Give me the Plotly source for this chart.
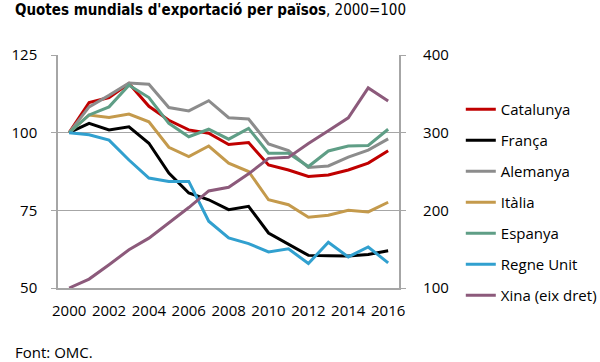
import plotly.graph_objects as go

years = list(range(2000, 2017))

catalunya = [100, 109.7, 111.3, 115.8, 108.5, 104.0, 100.9, 99.8, 96.2, 96.8, 89.6, 88.0, 85.9, 86.4, 88.0, 90.2, 94.2]
franca = [100, 103.0, 100.9, 101.9, 96.6, 87.0, 80.6, 78.4, 75.2, 76.3, 67.7, 64.0, 60.5, 60.4, 60.3, 60.8, 62.0]
alemanya = [100, 108.3, 112.0, 116.0, 115.6, 108.1, 107.0, 110.3, 104.8, 104.4, 96.4, 94.2, 88.8, 89.3, 92.1, 94.4, 98.0]
italia = [100, 105.7, 104.9, 106.0, 103.5, 95.3, 92.3, 95.7, 90.2, 87.5, 78.4, 76.8, 72.8, 73.4, 75.0, 74.5, 77.6]
espanya = [100, 105.7, 108.3, 115.3, 111.3, 103.0, 98.7, 101.1, 97.9, 101.4, 93.4, 93.4, 89.1, 94.1, 95.7, 95.9, 101.1]
regne_unit = [100, 99.3, 97.6, 91.2, 85.4, 84.3, 84.3, 71.5, 66.1, 64.3, 61.6, 62.6, 57.9, 64.7, 60.0, 63.2, 58.1]
xina = [100, 111.5, 130.0, 149.2, 164.2, 184.3, 203.6, 225.0, 229.7, 247.0, 266.9, 268.2, 286.1, 302.4, 319.1, 357.6, 340.9]

series = [
    ("Catalunya", catalunya, "#c00000", "y"),
    ("França", franca, "#000000", "y"),
    ("Alemanya", alemanya, "#8c8c8c", "y"),
    ("Itàlia", italia, "#c49a4c", "y"),
    ("Espanya", espanya, "#5f9e86", "y"),
    ("Regne Unit", regne_unit, "#31a0cf", "y"),
    ("Xina (eix dret)", xina, "#8c5a7b", "y2"),
]

x_ticks = list(range(2000, 2017, 2))
y_ticks = [50, 75, 100, 125]
y2_ticks = [100, 200, 300, 400]

FONT = "Open Sans"
AX = "#a6a6a6"

fig = go.Figure()
for i, (name, vals, color, yax) in enumerate(series):
    fig.add_trace(go.Scatter(
        x=years, y=vals, name=name, mode="lines", yaxis=yax,
        legendgroup="g%d" % i,
        line=dict(color=color, width=3),
    ))

fig.update_layout(
    width=600, height=362,
    margin=dict(l=47, r=197, t=55, b=74),
    paper_bgcolor="white", plot_bgcolor="white",
    font=dict(family=FONT, size=15, color="#000000"),
    showlegend=True,
    legend=dict(
        xref="container", yref="container",
        x=0.768, y=0.743, xanchor="left", yanchor="top",
        font=dict(family=FONT, size=15, color="#000000"),
        tracegroupgap=8.5, bgcolor="rgba(0,0,0,0)",
        itemwidth=30, maxheight=400,
    ),
    xaxis=dict(
        range=[1999.44, 2016.56], tickvals=x_ticks,
        ticktext=[str(v) for v in x_ticks],
        showgrid=False, zeroline=False,
        showline=True, linecolor=AX, linewidth=1.5,
        ticks="", tickfont=dict(family=FONT, size=15),
        ticklabelstandoff=8,
    ),
    yaxis=dict(
        range=[50, 125], tickvals=y_ticks,
        showgrid=True, gridcolor=AX, gridwidth=1.3,
        zeroline=False, showline=True, linecolor=AX, linewidth=1.5,
        ticks="outside", ticklen=5, tickcolor=AX, tickwidth=1.3,
        tickfont=dict(family=FONT, size=15),
        ticklabelstandoff=11,
    ),
    yaxis2=dict(
        range=[100, 400], tickvals=y2_ticks, overlaying="y", side="right",
        showgrid=False, zeroline=False, showline=True, linecolor=AX, linewidth=1.5,
        ticks="outside", ticklen=5, tickcolor=AX, tickwidth=1.3,
        tickfont=dict(family=FONT, size=15),
        ticklabelstandoff=14,
    ),
    annotations=[
        dict(
            text="<b>Quotes mundials d'exportació per països</b>, 2000=100",
            xref="paper", yref="paper", x=-47/356, y=1 + 56/233.6,
            xanchor="left", yanchor="top",
            showarrow=False, align="left",
            font=dict(family="DejaVu Sans Condensed, DejaVu Sans", size=15),
        ),
        dict(
            text="Font: OMC.",
            xref="paper", yref="paper", x=-47/356, y=-76/233.6,
            xanchor="left", yanchor="bottom",
            showarrow=False, font=dict(family=FONT, size=15),
        ),
    ],
)

fig.write_html(
    "out.html",
    config={"displayModeBar": False},
    post_script="document.body.style.margin='0';document.body.style.overflow='hidden';",
)
